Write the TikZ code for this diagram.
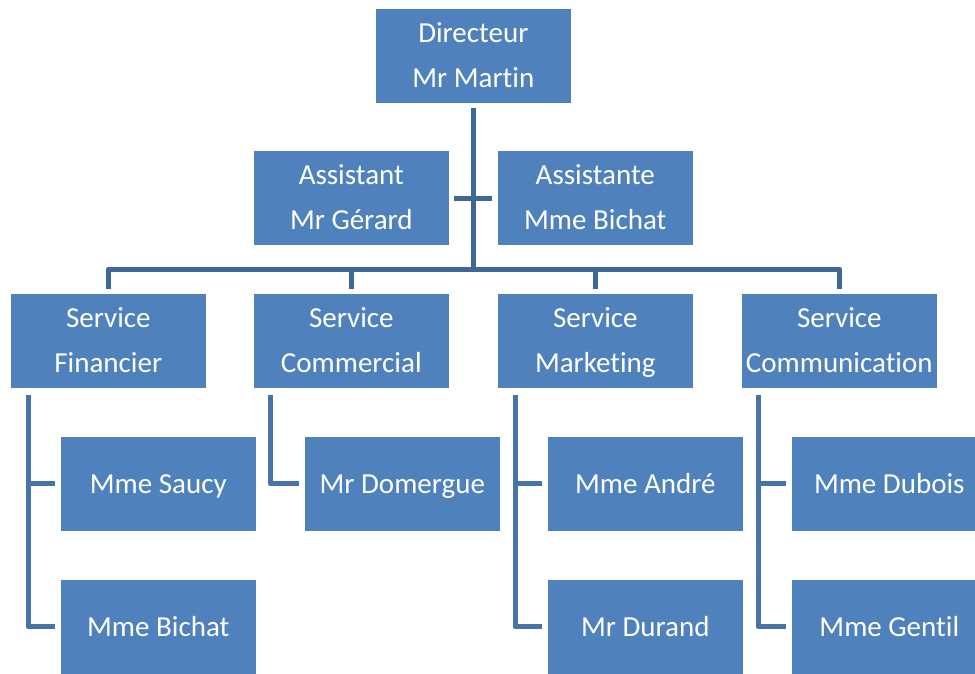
\documentclass[tikz,border=0pt]{standalone}
\usepackage{fontspec}
\setmainfont{Carlito}[Ligatures=NoCommon]
\definecolor{boxblue}{HTML}{4F81BD}
\definecolor{busblue}{HTML}{3F6898}
\definecolor{brkblue}{HTML}{4873A9}
\tikzset{
  orgbox/.style={fill=boxblue, draw=white, line width=0.6pt, minimum width=196pt, minimum height=95pt,
    inner sep=0pt, anchor=north west, text=white, align=center,
    font=\fontsize{29}{45}\selectfont},
  twoline/.style={orgbox, text height=63pt, text depth=0pt},
  oneline/.style={orgbox, text height=18.7pt, text depth=0pt},
  bus/.style={draw=busblue, line width=5pt, line join=round},
  brk/.style={draw=brkblue, line width=5pt, line join=round}
}
\begin{document}
\begin{tikzpicture}[x=1pt,y=-1pt]
\useasboundingbox (0,0) rectangle (975,673);
% nodes
\node[twoline] (dir) at (375,8) {Directeur\\Mr Martin};
\node[twoline] (asg) at (253,150) {Assistant\\Mr Gérard};
\node[twoline] (asb) at (497,150) {Assistante\\Mme Bichat};
\node[twoline] (fin) at (10,293) {Service\\Financier};
\node[twoline] (com) at (253,293) {Service\\Commercial};
\node[twoline] (mkt) at (497,293) {Service\\Marketing};
\node[twoline] (cmn) at (741,293) {Service\\Communication};
\node[oneline] (sau) at (60,436) {Mme Saucy};
\node[oneline] (bic) at (60,579) {Mme Bichat};
\node[oneline] (dom) at (304,436) {Mr Domergue};
\node[oneline] (and) at (547,436) {Mme André};
\node[oneline] (dur) at (547,579) {Mr Durand};
\node[oneline] (dub) at (791,436) {Mme Dubois};
\node[oneline] (gen) at (791,579) {Mme Gentil};
% coordinates
\coordinate (bus) at (473,269);
\coordinate (dirb) at (473,108);
\coordinate (asL) at (454,198);
\coordinate (asR) at (492,198);
% director trunk
\draw[bus] (dirb) -- (bus);
\draw[bus] (asL) -- (asR);
% bus
\draw[bus] (fin.north |- 0,289) -- (fin.north |- bus) -- (cmn.north |- bus) -- (cmn.north |- 0,289);
\draw[bus] (com.north |- bus) -- (com.north |- 0,289);
\draw[bus] (mkt.north |- bus) -- (mkt.north |- 0,289);
% brackets
\draw[brk] ([xshift=18pt,yshift=-6pt]fin.south west) -- ([xshift=18pt]fin.south west |- bic.west) -- ([xshift=-5pt]bic.west);
\draw[brk] ([xshift=18pt]fin.south west |- sau.west) -- ([xshift=-5pt]sau.west);
\draw[brk] ([xshift=17pt,yshift=-6pt]com.south west) -- ([xshift=17pt]com.south west |- dom.west) -- ([xshift=-5pt]dom.west);
\draw[brk] ([xshift=18pt,yshift=-6pt]mkt.south west) -- ([xshift=18pt]mkt.south west |- dur.west) -- ([xshift=-5pt]dur.west);
\draw[brk] ([xshift=18pt]mkt.south west |- and.west) -- ([xshift=-5pt]and.west);
\draw[brk] ([xshift=17pt,yshift=-6pt]cmn.south west) -- ([xshift=17pt]cmn.south west |- gen.west) -- ([xshift=-5pt]gen.west);
\draw[brk] ([xshift=17pt]cmn.south west |- dub.west) -- ([xshift=-5pt]dub.west);
\end{tikzpicture}
\end{document}
